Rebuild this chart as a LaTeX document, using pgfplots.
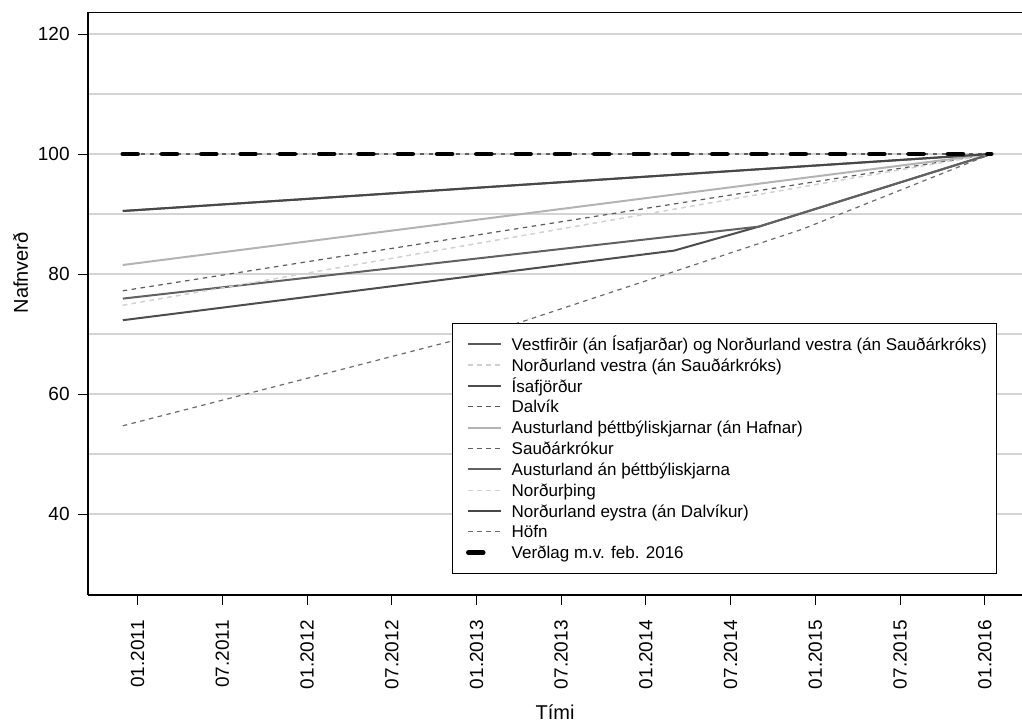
\documentclass[border=0pt]{standalone}
\usepackage{fontspec}
\setmainfont{Liberation Sans}
\usepackage{pgfplots}
\pgfplotsset{compat=1.18}
\definecolor{gridc}{gray}{0.83}
\definecolor{cA}{HTML}{595959}
\definecolor{cB}{HTML}{CFCFCF}
\definecolor{cC}{HTML}{4D4D4D}
\definecolor{cD}{HTML}{5A5A5A}
\definecolor{cE}{HTML}{B3B3B3}
\definecolor{cF}{HTML}{5E5E5E}
\definecolor{cG}{HTML}{616161}
\definecolor{cH}{HTML}{D2D2D2}
\definecolor{cI}{HTML}{474747}
\definecolor{cJ}{HTML}{6B6B6B}
\begin{document}
\begin{tikzpicture}
\begin{axis}[
  scale only axis,
  width=467pt, height=291.3pt,
  xmin=-3.513, xmax=62.635,
  ymin=26.5, ymax=123.6,
  axis x line=box, axis y line=left,
  axis line style={-, black, line width=0.6pt},
  xtick pos=left, ytick pos=left,
  tick align=outside,
  major tick length=5pt,
  minor tick length=0pt,
  tick style={black, line width=0.5pt},
  xtick={0,6,12,18,24,30,36,42,48,54,60},
  xticklabels={01.2011,07.2011,01.2012,07.2012,01.2013,07.2013,01.2014,07.2014,01.2015,07.2015,01.2016},
  ytick={40,60,80,100,120},
  minor ytick={50,70,90,110},
  ymajorgrids, yminorgrids,
  major grid style={gridc, line width=0.7pt},
  minor grid style={gridc, line width=0.7pt},
  /pgf/number format/assume math mode=true,
  tick label style={font=\fontsize{9.5}{11}\selectfont},
  xticklabel style={rotate=90, anchor=east, inner sep=0pt},
  yticklabel style={anchor=east, inner sep=0pt},
  xticklabel shift=7.5pt,
  yticklabel shift=4pt,
  xlabel={Tími}, ylabel={Nafnverð},
  label style={font=\fontsize{9.5}{11}\selectfont},
  every axis x label/.style={at={(axis description cs:0.5,-0.2008)}, anchor=center},
  every axis y label/.style={at={(axis description cs:-0.0723,0.553)}, rotate=90, anchor=center},
  legend cell align=left,
  legend image code/.code={\path (0pt,0pt) (18.55pt,0pt); \draw[#1] (2.05pt,0pt) -- (18.55pt,0pt);},
  legend style={at={(axis description cs:0.9732,0.036)}, anchor=south east,
    font=\fontsize{8.5}{10}\selectfont, draw=black, line width=0.5pt, fill=white,
    inner xsep=4.75pt, inner ysep=7.4pt, row sep=4.32pt, column sep=4pt,
    nodes={inner sep=0pt, text height=6.1pt, text depth=0pt}},
  solidl/.style={line width=1pt, line cap=butt},
  dashl/.style={line width=0.6pt, dash pattern=on 2.25pt off 2.25pt},
]
\coordinate (bl) at (rel axis cs:0,0);
\coordinate (tr) at (rel axis cs:1,1);
\addplot[cA, solidl] coordinates {(-1.05,90.5) (60.45,100)};
\addlegendentry{Vestfirðir (án Ísafjarðar) og Norðurland vestra (án Sauðárkróks)}
\addplot[cB, dashl] coordinates {(-1.05,74.8) (60.45,100)};
\addlegendentry{Norðurland vestra (án Sauðárkróks)}
\addplot[cC, solidl] coordinates {(-1.05,72.3) (38,83.9) (44,87.9) (60.45,100)};
\addlegendentry{Ísafjörður}
\addplot[cD, dashl] coordinates {(-1.05,77.2) (60.45,100)};
\addlegendentry{Dalvík}
\addplot[cE, solidl] coordinates {(-1.05,81.5) (60.45,100)};
\addlegendentry{Austurland þéttbýliskjarnar (án Hafnar)}
\addplot[cF, dashl] coordinates {(-1.05,100) (60.45,100)};
\addlegendentry{Sauðárkrókur}
\addplot[cG, solidl] coordinates {(-1.05,75.9) (44,87.9) (60.45,100)};
\addlegendentry{Austurland án þéttbýliskjarna}
\addplot[cH, dashl] coordinates {(-1.05,74.8) (60.45,100)};
\addlegendentry{Norðurþing}
\addplot[cI, solidl] coordinates {(-1.05,90.5) (60.45,100)};
\addlegendentry{Norðurland eystra (án Dalvíkur)}
\addplot[cJ, dashl] coordinates {(-1.05,54.7) (26,71.1) (47,87.4) (60.45,100)};
\addlegendentry{Höfn}
\addplot[black, line width=2.35pt, dash pattern=on 7.4pt off 12.25pt, line cap=round] coordinates {(-1.05,100) (60.45,100)};
\addlegendentry{Verðlag m.v. feb. 2016}
\end{axis}
\pgfresetboundingbox
\path[use as bounding box] ([xshift=-44pt,yshift=-65.5pt]bl) rectangle ([yshift=6.2pt]tr);
\end{tikzpicture}
\end{document}
